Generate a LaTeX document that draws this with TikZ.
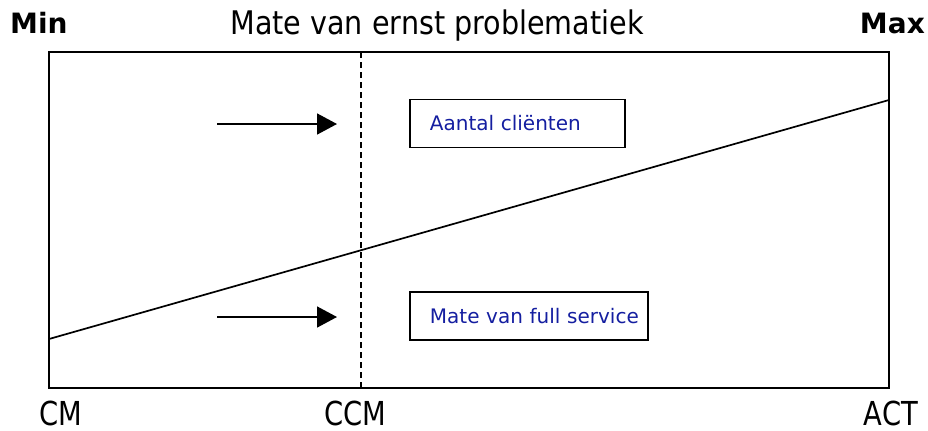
\documentclass[tikz,border=0pt]{standalone}
\usepackage{fontspec}
\setmainfont{DejaVu Sans}
\newfontfamily\smalfont[FakeStretch=0.83]{DejaVu Sans}
\newfontfamily\kopfont[FakeStretch=0.88]{DejaVu Sans}
\usetikzlibrary{arrows.meta, positioning}
\definecolor{tekstblauw}{RGB}{20,30,160}

\begin{document}
\begin{tikzpicture}[
  x=1bp, y=-1bp,
  kader/.style={draw=black, line width=2bp},
  schuin/.style={draw=black, line width=1.7bp},
  scheiding/.style={draw=black, line width=1.7bp, dash pattern=on 6bp off 4bp},
  vakje/.style={draw=black, line width=1.8bp, anchor=west, text=tekstblauw,
                font=\fontsize{20bp}{23bp}\selectfont, align=left,
                inner xsep=20bp, minimum height=48bp},
  pijl/.style={draw=black, line width=1.6bp, -{Triangle[length=20bp,width=21bp]}},
  kop/.style={anchor=base, inner sep=0pt, font=\kopfont\fontsize{32.5bp}{36bp}\selectfont},
  uiterste/.style={inner sep=0pt, font=\bfseries\fontsize{28bp}{32bp}\selectfont},
  asnaam/.style={anchor=base, inner sep=0pt, font=\smalfont\fontsize{33bp}{36bp}\selectfont}
]
\useasboundingbox (0,0) rectangle (928,430);

%--------------------------------------------------------------
% Kader en as
%--------------------------------------------------------------
\coordinate (linksonder) at (49,388);
\coordinate (rechtsboven) at (889,52);
\draw[kader] (linksonder) rectangle (rechtsboven);

\coordinate (lijnbegin) at (49,339);
\coordinate (lijneind) at (889,100);
\draw[schuin] (lijnbegin) -- (lijneind);

\coordinate (scheidboven) at (361,52);
\coordinate (scheidonder) at (361,388);
\draw[scheiding] (scheidboven) -- (scheidonder);

%--------------------------------------------------------------
% Kopregel
%--------------------------------------------------------------
\node[uiterste, anchor=base west] (min) at (10,33.5) {Min};
\node[kop] (titel) at (437,34) {Mate van ernst problematiek};
\node[uiterste, anchor=base east] (max) at (925,33.5) {Max};

%--------------------------------------------------------------
% Vakjes met pijlen
%--------------------------------------------------------------
\node[vakje, text width=175bp] (clienten) at (409,123.5) {\mbox{Aantal cliënten}};
\node[vakje, text width=198bp] (service) at (409,316) {\mbox{Mate van full service}};

\coordinate (pijl1begin) at (217,124);
\coordinate (pijl1eind) at (337,124);
\coordinate (pijl2begin) at (217,317);
\coordinate (pijl2eind) at (337,317);
\draw[pijl] (pijl1begin) -- (pijl1eind);
\draw[pijl] (pijl2begin) -- (pijl2eind);

%--------------------------------------------------------------
% Namen onder de as
%--------------------------------------------------------------
\node[asnaam] (cm) at (61,425) {CM};
\node[asnaam] (ccm) at (355,425) {CCM};
\node[asnaam] (act) at (891,425) {ACT};

\end{tikzpicture}
\end{document}
